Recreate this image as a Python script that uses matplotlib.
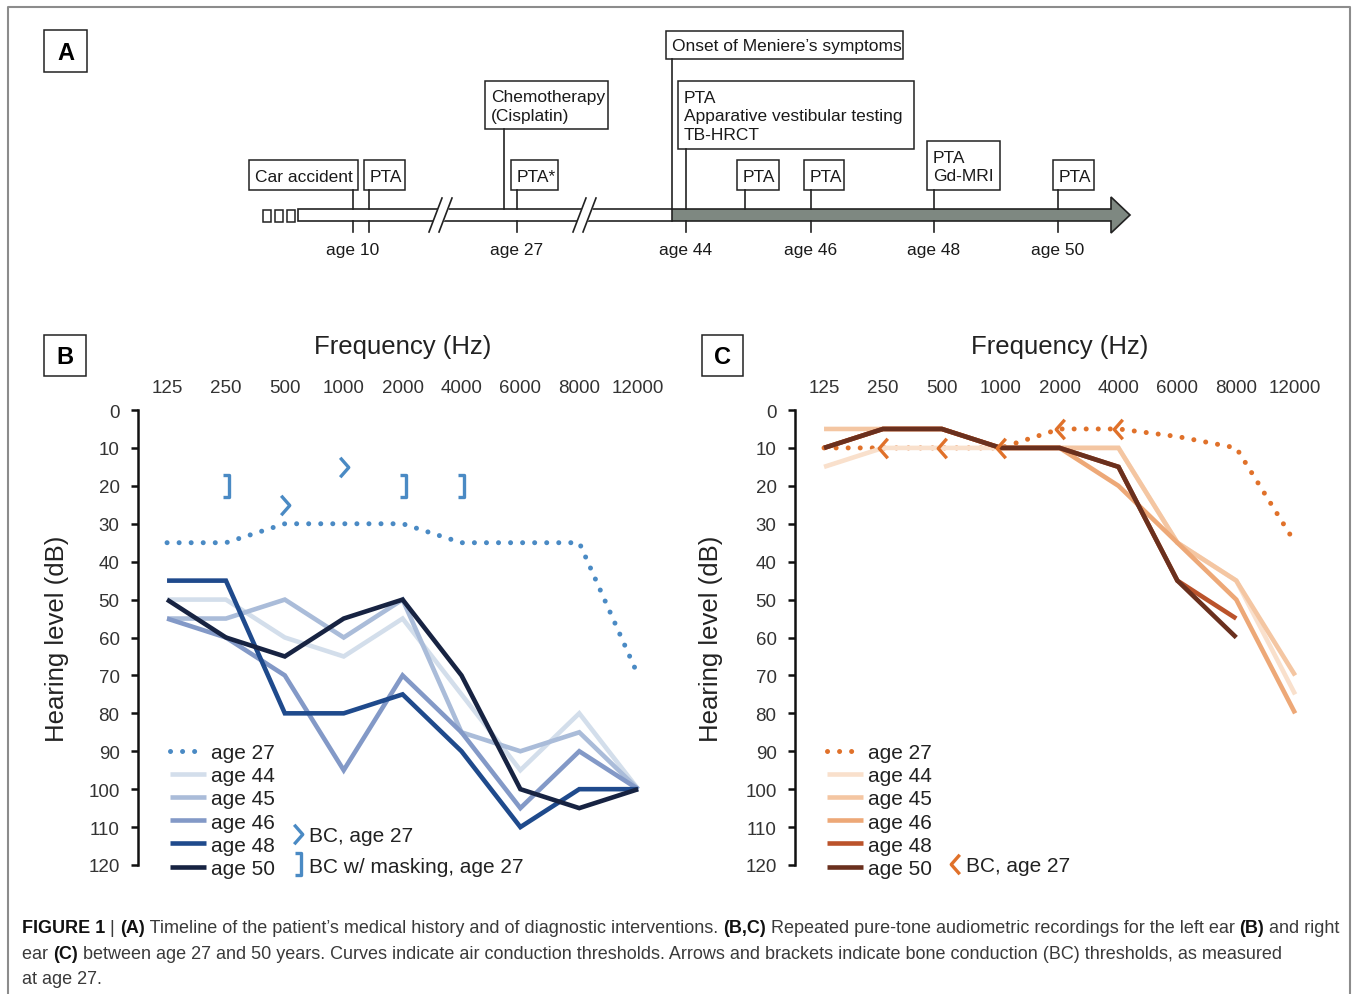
import numpy as np
import matplotlib
matplotlib.use('Agg')
import matplotlib.pyplot as plt
import matplotlib.patches as mpatches
from matplotlib.path import Path
from matplotlib.lines import Line2D
from matplotlib import font_manager

W, H = 1357, 995
plt.rcParams['font.family'] = ['Liberation Sans', 'DejaVu Sans']

# ---- audiogram data (dB HL) ----
freqs = ['125', '250', '500', '1000', '2000', '4000', '6000', '8000', '12000']
ages = ['age 27', 'age 44', 'age 45', 'age 46', 'age 48', 'age 50']
nan = np.nan

left_27 = [35, 35, 30, 30, 30, 35, 35, 35, 70]
left_44 = [50, 50, 60, 65, 55, 75, 95, 80, 100]
left_45 = [55, 55, 50, 60, 50, 85, 90, 85, 100]
left_46 = [55, 60, 70, 95, 70, 85, 105, 90, 100]
left_48 = [45, 45, 80, 80, 75, 90, 110, 100, 100]
left_50 = [50, 60, 65, 55, 50, 70, 100, 105, 100]
left_bc = [nan, nan, 25, 15, nan, nan, nan, nan, nan]
left_bc_mask = [nan, 20, nan, nan, 20, 20, nan, nan, nan]

right_27 = [10, 10, 10, 10, 5, 5, 7, 10, 35]
right_44 = [15, 10, 10, 10, 10, 10, 35, 45, 75]
right_45 = [5, 5, 5, 10, 10, 10, 35, 45, 70]
right_46 = [10, 5, 5, 10, 10, 20, 35, 50, 80]
right_48 = [10, 5, 5, 10, 10, 15, 45, 55, nan]
right_50 = [10, 5, 5, 10, 10, 15, 45, 60, nan]
right_bc = [nan, 10, 10, 10, 5, 5, nan, nan, nan]

blues = ['#4a8ac4', '#d3deeb', '#aabcd9', '#8399c7', '#1f4a8c', '#172342']
oranges = ['#e0712a', '#f9e0cc', '#f4c6a2', '#eda877', '#bb532b', '#6a301e']

# ---- timeline (panel A) ----
box_text = ['Car accident', 'PTA', 'Chemotherapy\n(Cisplatin)', 'PTA*',
            'Onset of Meniere\u2019s symptoms',
            'PTA\nApparative vestibular testing\nTB-HRCT',
            'PTA', 'PTA', 'PTA\nGd-MRI', 'PTA']
box_ltrb = [(249, 161, 358, 191), (364, 161, 405, 191), (485, 82, 608, 130),
            (511, 161, 558, 191), (666, 32, 903, 60), (678, 82, 914, 150),
            (737, 161, 779, 191), (804, 161, 844, 191), (927, 142, 1000, 191),
            (1053, 161, 1094, 191)]
tick_x = [353, 369, 504, 517, 672, 686, 745, 811, 934, 1058]
age_labels = ['age 10', 'age 27', 'age 44', 'age 46', 'age 48', 'age 50']
age_x = [353, 517, 686, 811, 934, 1058]
below_ticks = [353, 369, 517, 686, 811, 934, 1058]
breaks_x = [441, 585]

fig = plt.figure(figsize=(W / 100, H / 100), dpi=100)
axA = fig.add_axes([0, 0, 1, 1])
axA.set_xlim(0, W)
axA.set_ylim(H, 0)
axA.axis('off')

# frame round the figure
axA.plot([8, 8, 1350, 1350], [995, 8, 8, 995], color='#8c8c8c', lw=1.5)

def label_box(l, t, r, b, s):
    axA.add_patch(mpatches.Rectangle((l, t), r - l, b - t, fc='white', ec='#222', lw=1.1))
    axA.text((l + r) / 2, (t + b) / 2 + 1, s, fontsize=17, fontweight='bold',
             ha='center', va='center', color='black')

label_box(44, 31, 87, 73, 'A')
label_box(44, 336, 86, 377, 'B')
label_box(702, 336, 743, 377, 'C')

bar_t, bar_b = 210, 222
bar_l, bar_r, tip = 298, 1111, 1130
gray_l = 672
# stubs on the left
for sx in [263, 275, 287]:
    axA.add_patch(mpatches.Rectangle((sx, 211), 8, 12, fc='white', ec='#222', lw=1.1))
axA.add_patch(mpatches.Rectangle((bar_l, bar_t), bar_r - bar_l, bar_b - bar_t, fc='white', ec='none'))
arrow = [(gray_l, bar_t), (bar_r, bar_t), (bar_r, 198), (tip, 216), (bar_r, 234),
         (bar_r, bar_b), (gray_l, bar_b)]
axA.add_patch(mpatches.Polygon(arrow, closed=True, fc='#7e8881', ec='none'))
outline = [(bar_l, bar_t), (bar_r, bar_t), (bar_r, 198), (tip, 216), (bar_r, 234),
           (bar_r, bar_b), (bar_l, bar_b)]
axA.add_patch(mpatches.Polygon(outline, closed=True, fc='none', ec='#222', lw=1.2))

for bx in breaks_x:
    gap = [(bx - 12, 233), (bx + 1, 199), (bx + 12, 199), (bx - 1, 233)]
    axA.add_patch(mpatches.Polygon(gap, closed=True, fc='white', ec='none', zorder=3))
    for off in (-5, 5):
        axA.plot([bx - 7 + off, bx + 6 + off], [233, 199], color='#222', lw=1.2, zorder=4)

for (l, t, r, b), s, tx in zip(box_ltrb, box_text, tick_x):
    axA.add_patch(mpatches.Rectangle((l, t), r - l, b - t, fc='white', ec='#222', lw=1.1))
    axA.text(l + 6, (t + b) / 2 + 1, s, fontsize=12.5, ha='left', va='center',
             linespacing=1.28, color='#1a1a1a')
    axA.plot([tx, tx], [b, bar_t], color='#222', lw=1.2)
axA.plot([tick_x[4], tick_x[4]], [bar_t, bar_b], color='#222', lw=1.2)
for bx in below_ticks:
    axA.plot([bx, bx], [bar_b, 233], color='#222', lw=1.2)
for s, ax_ in zip(age_labels, age_x):
    axA.text(ax_, 250, s, fontsize=12.5, ha='center', va='center', color='#1a1a1a')

# ---- audiograms ----
chev_r = Path([(-0.22, 0.5), (0.22, 0.0), (-0.22, -0.5)], [Path.MOVETO, Path.LINETO, Path.LINETO])
chev_l = Path([(0.22, 0.5), (-0.22, 0.0), (0.22, -0.5)], [Path.MOVETO, Path.LINETO, Path.LINETO])
brack = Path([(-0.14, 0.5), (0.14, 0.5), (0.14, -0.5), (-0.14, -0.5)],
             [Path.MOVETO, Path.LINETO, Path.LINETO, Path.LINETO])

def audiogram(left_px, series, colors):
    ax = fig.add_axes([left_px / W, 1 - 866 / H, 530 / W, 455 / H])
    ax.patch.set_alpha(0)
    x = np.arange(len(freqs))
    handles = []
    for vals, col, lab in zip(series, colors, ages):
        if lab == 'age 27':
            ln, = ax.plot(x, vals, color=col, lw=3.6, ls=(0, (0.01, 2.4)),
                          dash_capstyle='round', label=lab)
        else:
            ln, = ax.plot(x, vals, color=col, lw=3.3, solid_joinstyle='miter',
                          solid_capstyle='butt', label=lab)
        handles.append(ln)
    ax.set_xlim(-0.5, 8.5)
    ax.set_ylim(120, 0)
    ax.set_yticks(range(0, 121, 10))
    ax.set_xticks(x)
    ax.set_xticklabels(freqs)
    ax.xaxis.tick_top()
    ax.tick_params(axis='x', length=0, pad=10, labelsize=13.5, labelcolor='#333')
    ax.tick_params(axis='y', length=5, width=1.8, pad=8, labelsize=13.5,
                   labelcolor='#333', color='#111')
    for side in ['top', 'right', 'bottom']:
        ax.spines[side].set_visible(False)
    ax.spines['left'].set_linewidth(1.8)
    ax.spines['left'].set_color('#111')
    ax.text(0.5, 1 + (411 - 347) / 455, 'Frequency (Hz)', transform=ax.transAxes,
            ha='center', va='center', fontsize=18.5, color='#222')
    ax.set_ylabel('Hearing level (dB)', fontsize=18.5, color='#222')
    leg = ax.legend(handles=handles, loc='upper left', bbox_to_anchor=(0.062, 0.268),
                    frameon=False, fontsize=15, handlelength=1.7, handletextpad=0.25,
                    labelspacing=0.2, borderpad=0, borderaxespad=0)
    for t in leg.get_texts():
        t.set_color('#222')
    ax.add_artist(leg)
    return ax, x

axB, x = audiogram(137.6, [left_27, left_44, left_45, left_46, left_48, left_50], blues)
axB.yaxis.set_label_coords(-0.13, 0.5)
axB.plot(x, left_bc, ls='none', marker=chev_r, ms=14, mfc='none', mec=blues[0], mew=2.4)
axB.plot(x, left_bc_mask, ls='none', marker=brack, ms=16, mfc='none', mec=blues[0], mew=2.4)
h1 = Line2D([], [], ls='none', marker=chev_r, ms=14, mfc='none', mec=blues[0], mew=2.4)
h2 = Line2D([], [], ls='none', marker=brack, ms=16, mfc='none', mec=blues[0], mew=2.4)
lg = axB.legend([h1, h2], ['BC, age 27', 'BC w/ masking, age 27'], loc='upper left',
                bbox_to_anchor=(0.29, 0.085), frameon=False, fontsize=15, handlelength=0.6,
                handletextpad=0.25, labelspacing=0.55, borderpad=0, borderaxespad=0)
for t in lg.get_texts():
    t.set_color('#222')

axC, x = audiogram(794.6, [right_27, right_44, right_45, right_46, right_48, right_50], oranges)
axC.yaxis.set_label_coords(-0.135, 0.5)
axC.plot(x, right_bc, ls='none', marker=chev_l, ms=14, mfc='none', mec=oranges[0], mew=2.4)
h3 = Line2D([], [], ls='none', marker=chev_l, ms=14, mfc='none', mec=oranges[0], mew=2.4)
lg = axC.legend([h3], ['BC, age 27'], loc='upper left', bbox_to_anchor=(0.29, 0.019),
                frameon=False, fontsize=15, handlelength=0.6, handletextpad=0.25,
                borderpad=0, borderaxespad=0)
for t in lg.get_texts():
    t.set_color('#222')

# ---- caption ----
names = {f.name for f in font_manager.fontManager.ttflist}
cap_font = 'Liberation Sans Narrow' if 'Liberation Sans Narrow' in names else 'Liberation Sans'
cap_lines = [
    [('FIGURE 1', True), (' | ', False), ('(A)', True),
     (' Timeline of the patient\u2019s medical history and of diagnostic interventions. ', False),
     ('(B,C)', True), (' Repeated pure-tone audiometric recordings for the left ear ', False),
     ('(B)', True), (' and right', False)],
    [('ear ', False), ('(C)', True),
     (' between age 27 and 50 years. Curves indicate air conduction thresholds. Arrows and brackets '
      'indicate bone conduction (BC) thresholds, as measured', False)],
    [('at age 27.', False)],
]
cap_y = [929, 955, 980]
renderer = fig.canvas.get_renderer()

def line_width(parts, size):
    tot = 0
    for s, b in parts:
        t = fig.text(0, 0, s, fontsize=size, family=cap_font, fontweight='bold' if b else 'normal')
        tot += t.get_window_extent(renderer).width
        t.remove()
    return tot

cap_size = 10 * (1319 / line_width(cap_lines[0], 10))
for parts, yy in zip(cap_lines, cap_y):
    cur = 22
    for s, b in parts:
        t = fig.text(cur / W, 1 - yy / H, s, fontsize=cap_size, family=cap_font,
                     fontweight='bold' if b else 'normal', ha='left', va='center',
                     color='#111' if b else '#3a3a3a')
        cur += t.get_window_extent(renderer).width

fig.savefig('out.png', dpi=100)
